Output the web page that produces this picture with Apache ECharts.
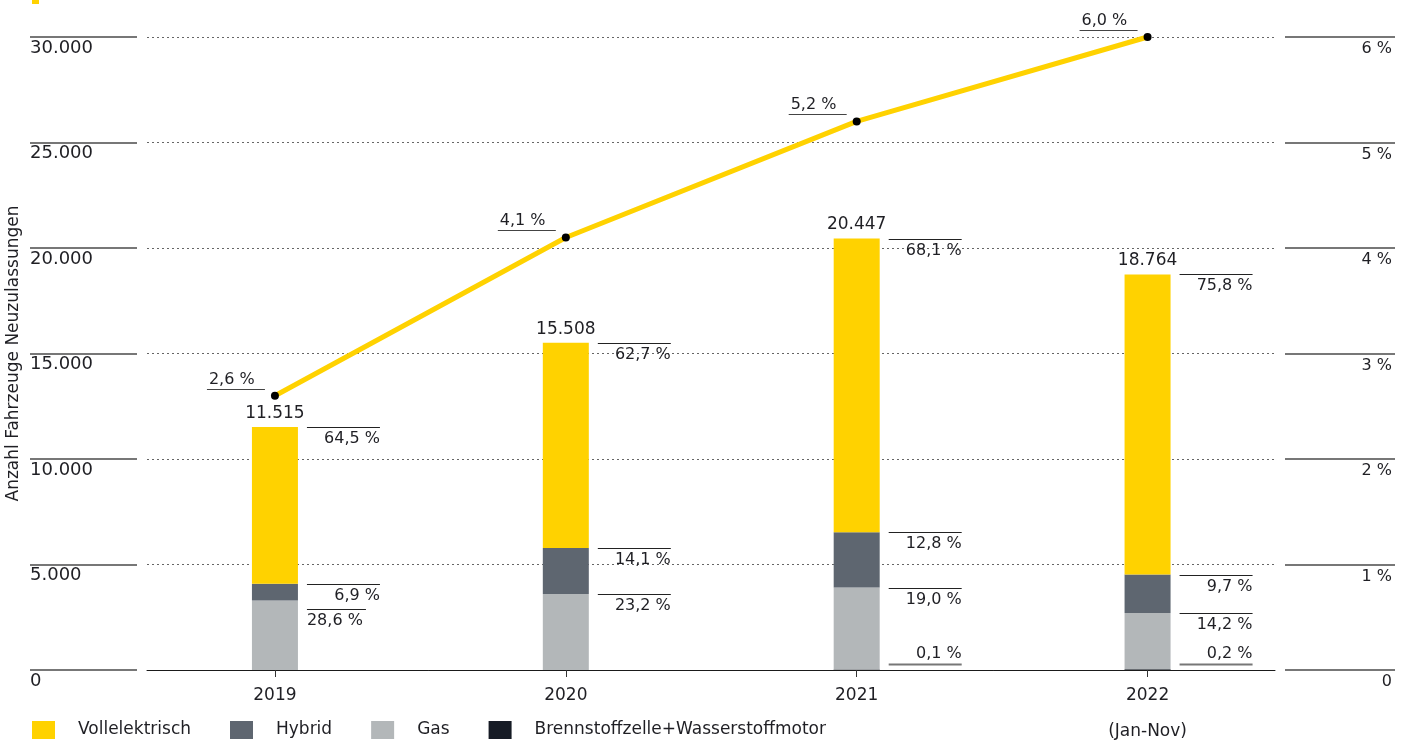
<!DOCTYPE html>
<html>
<head>
<meta charset="utf-8">
<script src="https://cdn.jsdelivr.net/npm/echarts@6/dist/echarts.min.js"></script>
<style>
html,body{margin:0;padding:0;background:#fff;}
#chart{width:1409px;height:742px;}
</style>
</head>
<body>
<div id="chart"></div>
<script>
// ---- data ----
const categories = ['2019', '2020', '2021', '2022'];
const categorySubLabels = ['', '', '', '(Jan-Nov)'];
const totals = [11515, 15508, 20447, 18764];
const shareVoll = [64.5, 62.7, 68.1, 75.8];
const shareHybrid = [6.9, 14.1, 12.8, 9.7];
const shareGas = [28.6, 23.2, 19.0, 14.2];
const shareBZ = [0, 0, 0.1, 0.2];
const marketShare = [2.6, 4.1, 5.2, 6.0];
const seriesNames = ['Vollelektrisch', 'Hybrid', 'Gas', 'Brennstoffzelle+Wasserstoffmotor'];

// ---- styles ----
const FONT = 'DejaVu Sans';
const C_YELLOW = '#FFD200';
const C_HYBRID = '#5E6670';
const C_GAS = '#B3B7B9';
const C_BZ = '#161B25';
const C_TEXT = '#1f1f24';

const fmtInt = v => String(Math.round(v)).replace(/\B(?=(\d{3})+(?!\d))/g, '.');
const fmtPct = v => v.toFixed(1).replace('.', ',') + ' %';

const absOf = (shares) => shares.map((s, i) => totals[i] * s / 100);
const vBZ = absOf(shareBZ), vGas = absOf(shareGas), vHyb = absOf(shareHybrid), vVoll = absOf(shareVoll);

// segment labels (line at top of each segment)
const segLabels = [];
categories.forEach((c, i) => {
  const topBZ = vBZ[i], topGas = topBZ + vGas[i], topHyb = topGas + vHyb[i], topVoll = topHyb + vVoll[i];
  segLabels.push({cat: i, value: topVoll, text: fmtPct(shareVoll[i]), kind: 'below'});
  segLabels.push({cat: i, value: topHyb, text: fmtPct(shareHybrid[i]), kind: 'below'});
  segLabels.push({cat: i, value: topGas, text: fmtPct(shareGas[i]), kind: 'below'});
  if (shareBZ[i] > 0) segLabels.push({cat: i, value: 0, text: fmtPct(shareBZ[i]), kind: 'above'});
});

function layoutCat(cat, api) {
  const res = {};
  let prevBottom = -1e9;
  segLabels.forEach((d, idx) => {
    if (d.cat !== cat || d.kind !== 'below') return;
    let y = api.coord([d.cat, d.value])[1];
    let shifted = false;
    if (y < prevBottom + 3) { y = prevBottom + 5; shifted = true; }
    res[idx] = {y: y, shifted: shifted};
    prevBottom = y + 20;
  });
  return res;
}

const chart = echarts.init(document.getElementById('chart'), null, {renderer: 'canvas'});

const option = {
  animation: false,
  backgroundColor: '#fff',
  textStyle: {fontFamily: FONT, color: C_TEXT},
  graphic: [{type: 'rect', left: 32, top: 0, shape: {width: 7, height: 4}, style: {fill: C_YELLOW}}],
  legend: {
    data: seriesNames,
    left: 27, top: 716,
    itemWidth: 23, itemHeight: 18, itemGap: 39,
    icon: 'rect',
    textStyle: {fontFamily: FONT, fontSize: 17, color: C_TEXT, padding: [0, 0, 0, 18]}
  },
  grid: [
    {left: 147, right: 134, top: 37, bottom: 72, containLabel: false, outerBoundsMode: 'none'},
    {left: 129.5, right: 116, top: 37, bottom: 72, containLabel: false, outerBoundsMode: 'none'}
  ],
  xAxis: [
    {type: 'value', gridIndex: 0, min: 0, max: 1, show: true,
      axisLine: {show: true, onZero: false, lineStyle: {color: '#1a1a1a', width: 1}},
      axisTick: {show: false}, axisLabel: {show: false}, splitLine: {show: false}},
    {type: 'category', gridIndex: 1, data: categories,
      axisLine: {show: false},
      axisTick: {show: true, alignWithLabel: true, length: 7, lineStyle: {color: '#333'}},
      axisLabel: {
        fontFamily: FONT, fontSize: 17, color: C_TEXT, margin: 17, lineHeight: 18,
        formatter: (v, i) => categorySubLabels[i] ? v + '\n\n' + categorySubLabels[i] : v,
        verticalAlign: 'top'
      }}
  ],
  yAxis: [
    {type: 'value', gridIndex: 0, min: 0, max: 30000, interval: 5000, position: 'left', offset: 10,
      name: 'Anzahl Fahrzeuge Neuzulassungen', nameLocation: 'middle', nameGap: 115, nameRotate: 90,
      nameMoveOverlap: false,
      nameTextStyle: {fontFamily: FONT, fontSize: 17, color: C_TEXT},
      axisLine: {show: false, onZero: false},
      axisTick: {show: true, length: 107, lineStyle: {color: '#777', width: 2}},
      axisLabel: {fontFamily: FONT, fontSize: 18, color: C_TEXT, align: 'left', margin: 107,
        verticalAlign: 'top', padding: [2, 0, 0, 0], formatter: v => fmtInt(v)},
      splitLine: {show: true, lineStyle: {type: [2, 3], color: '#666', width: 1}}},
    {type: 'value', gridIndex: 0, min: 0, max: 6, interval: 1, position: 'right', offset: 10,
      axisLine: {show: false, onZero: false},
      axisTick: {show: true, length: 110, lineStyle: {color: '#777', width: 2}},
      axisLabel: {fontFamily: FONT, fontSize: 16, color: C_TEXT, align: 'right', margin: 107,
        verticalAlign: 'top', padding: [4, 0, 0, 0], formatter: v => v === 0 ? '0' : v + ' %'},
      splitLine: {show: false}},
    {type: 'value', gridIndex: 1, min: 0, max: 30000, show: false, splitLine: {show: false}},
    {type: 'value', gridIndex: 1, min: 0, max: 6, show: false, splitLine: {show: false}}
  ],
  series: [
    {name: seriesNames[3], type: 'bar', stack: 's', xAxisIndex: 1, yAxisIndex: 2, barWidth: 46,
      itemStyle: {color: C_BZ}, data: vBZ},
    {name: seriesNames[2], type: 'bar', stack: 's', xAxisIndex: 1, yAxisIndex: 2, barWidth: 46,
      itemStyle: {color: C_GAS}, data: vGas},
    {name: seriesNames[1], type: 'bar', stack: 's', xAxisIndex: 1, yAxisIndex: 2, barWidth: 46,
      itemStyle: {color: C_HYBRID}, data: vHyb},
    {name: seriesNames[0], type: 'bar', stack: 's', xAxisIndex: 1, yAxisIndex: 2, barWidth: 46,
      itemStyle: {color: C_YELLOW}, data: vVoll,
      label: {show: true, position: 'top', distance: 5, fontFamily: FONT, fontSize: 17, color: C_TEXT,
        formatter: p => fmtInt(totals[p.dataIndex])}},
    {name: 'Marktanteil', type: 'line', xAxisIndex: 1, yAxisIndex: 3, data: marketShare, z: 5,
      lineStyle: {color: C_YELLOW, width: 5}, symbol: 'circle', symbolSize: 8,
      itemStyle: {color: '#000', borderWidth: 0}},
    {name: 'segLabels', type: 'custom', xAxisIndex: 1, yAxisIndex: 2, z: 6,
      data: segLabels.map(d => [d.cat, d.value]),
      renderItem: (params, api) => {
        const d = segLabels[params.dataIndex];
        const base = api.coord([d.cat, 0]);
        const cx = base[0];
        const x0 = cx + 32;
        if (d.kind === 'above') {
          const ly = Math.round(base[1] - 6) + 0.5;
          return {type: 'group', children: [
            {type: 'line', shape: {x1: x0, y1: ly, x2: cx + 105, y2: ly}, style: {stroke: '#777', lineWidth: 2}},
            {type: 'text', style: {x: cx + 105, y: ly - 3, text: d.text, align: 'right', verticalAlign: 'bottom',
              fontFamily: FONT, fontSize: 16, fill: C_TEXT}}
          ]};
        }
        const lay = layoutCat(d.cat, api)[params.dataIndex];
        const ly = Math.round(lay.y) + 0.5;
        const x1 = lay.shifted ? x0 + 59 : cx + 105;
        return {type: 'group', children: [
          {type: 'line', shape: {x1: x0, y1: ly, x2: x1, y2: ly}, style: {stroke: '#222', lineWidth: 1}},
          {type: 'text', style: {x: lay.shifted ? x0 : x1, y: ly + 3, text: d.text,
            align: lay.shifted ? 'left' : 'right', verticalAlign: 'top',
            fontFamily: FONT, fontSize: 16, fill: C_TEXT}}
        ]};
      }},
    {name: 'shareLabels', type: 'custom', xAxisIndex: 1, yAxisIndex: 3, z: 6,
      data: marketShare.map((v, i) => [i, v]),
      renderItem: (params, api) => {
        const p = api.coord([api.value(0), api.value(1)]);
        const ly = Math.round(p[1] - 7) + 0.5;
        return {type: 'group', children: [
          {type: 'line', shape: {x1: p[0] - 68, y1: ly, x2: p[0] - 10, y2: ly}, style: {stroke: '#444', lineWidth: 1}},
          {type: 'text', style: {x: p[0] - 66, y: ly - 2, text: fmtPct(marketShare[params.dataIndex]),
            align: 'left', verticalAlign: 'bottom', fontFamily: FONT, fontSize: 16, fill: C_TEXT}}
        ]};
      }}
  ]
};
chart.setOption(option);
</script>
</body>
</html>
